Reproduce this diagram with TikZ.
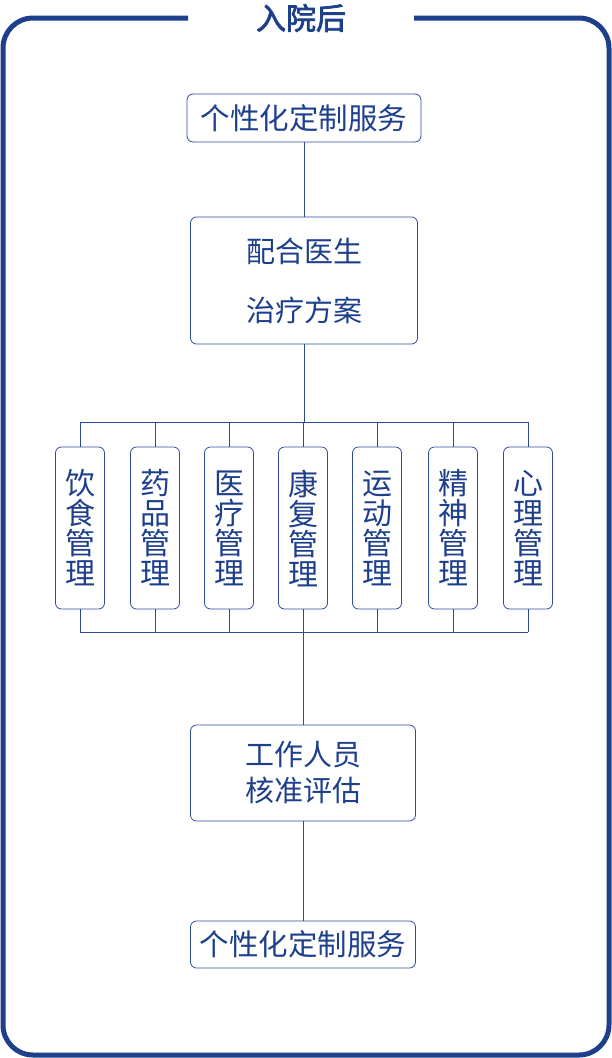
\documentclass[tikz,border=0pt]{standalone}
\usepackage{fontspec}
\setmainfont{Noto Sans CJK SC}
\newfontfamily\cjkb[FakeBold=2.5]{Noto Sans CJK SC}
\definecolor{frameblue}{HTML}{1D3F8C}
\definecolor{lineblue}{HTML}{2B4C9B}
\begin{document}
\begin{tikzpicture}[x=1pt,y=-1pt,
  box/.style={draw=lineblue,line width=0.8pt,rounded corners=6pt,text=frameblue,align=center,inner sep=0pt},
  conn/.style={draw=lineblue,line width=0.8pt}]
\useasboundingbox (0,0) rectangle (612,1058);
\draw[frameblue,line width=5pt,rounded corners=30pt] (188,18) -- (3,18) -- (3,1055) -- (609,1055) -- (609,18) -- (414,18);
\node[text=frameblue,font=\cjkb\fontsize{30}{32}\selectfont] (title) at (301,18) {入院后};
\node[box,minimum width=234,minimum height=48,font=\fontsize{29.5}{30}\selectfont] (b1) at (304,118) {个性化定制服务};
\node[box,minimum width=227,minimum height=127,font=\fontsize{29}{59}\selectfont] (b2) at (304,280.5) {配合医生\\治疗方案};
\foreach \i/\x/\a/\b/\c/\d in {1/80/饮/食/管/理,2/155/药/品/管/理,3/229/医/疗/管/理,4/303/康/复/管/理,5/377/运/动/管/理,6/453/精/神/管/理,7/528/心/理/管/理}{
  \node[box,minimum width=49,minimum height=162,font=\fontsize{30}{30}\selectfont] (v\i) at (\x,528) {\a\\\b\\\c\\\d};
  \coordinate (t\i) at (\x,422);
  \coordinate (u\i) at (\x,632);
  \draw[conn] (t\i) -- (v\i.north);
  \draw[conn] (v\i.south) -- (u\i);
}
\draw[conn] (t1) -- (t7);
\draw[conn] (u1) -- (u7);
\node[box,minimum width=225,minimum height=96,font=\fontsize{29}{36}\selectfont] (b3) at (303,773) {工作人员\\核准评估};
\node[box,minimum width=225,minimum height=47,font=\fontsize{29.5}{30}\selectfont] (b4) at (303,944.5) {个性化定制服务};
\draw[conn] (b1) -- (b2);
\draw[conn] (b2.south) -- (b2.south|-t4);
\draw[conn] (b3.north|-u4) -- (b3.north);
\draw[conn] (b3) -- (b4);
\end{tikzpicture}
\end{document}
